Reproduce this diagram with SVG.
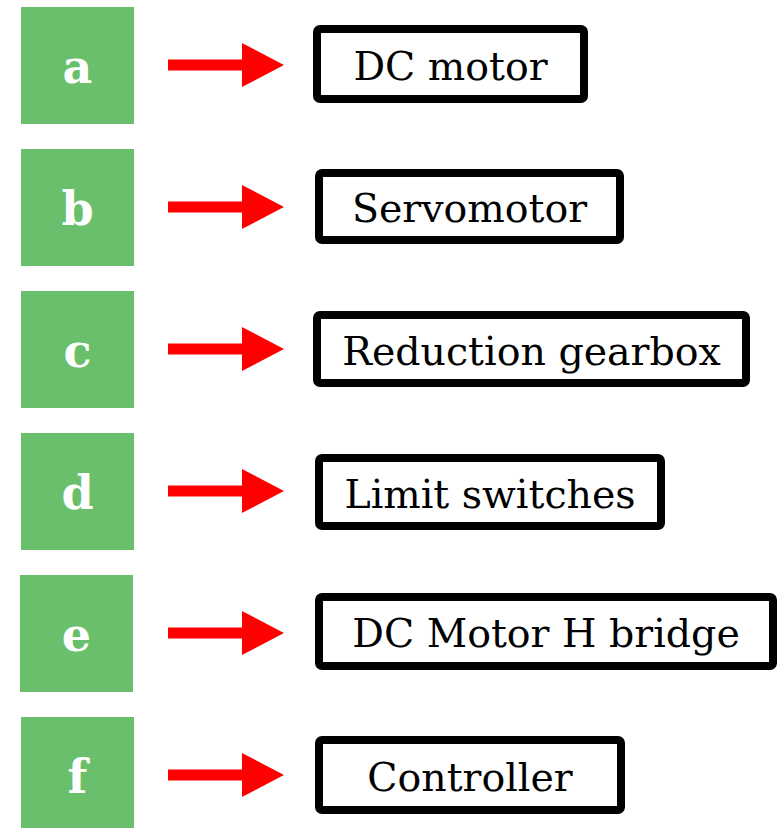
<svg xmlns="http://www.w3.org/2000/svg" width="780" height="828" viewBox="0 0 780 828">
<style>
.sq{fill:#69bf6b}
.lt{font-family:"DejaVu Serif","Liberation Serif",serif;font-weight:bold;font-size:46px;fill:#fff;text-anchor:middle}
.bx{fill:#fff;stroke:#000;stroke-width:8;rx:3}
.tx{font-family:"DejaVu Serif","Liberation Serif",serif;font-size:39.5px;fill:#000;text-anchor:middle}
.ar{fill:#ff0000}
</style>
<defs>
<path id="arr" class="ar" d="M168,-5.5 H242 V-22 L284,0 L242,22 V5.5 H168 Z"/>
</defs>
<rect width="780" height="828" fill="#fff"/>
<g id="connectors">
<use href="#arr" transform="translate(0,65)"/>
<use href="#arr" transform="translate(0,207)"/>
<use href="#arr" transform="translate(0,349)"/>
<use href="#arr" transform="translate(0,491)"/>
<use href="#arr" transform="translate(0,633)"/>
<use href="#arr" transform="translate(0,775)"/>
</g>
<g id="node-a"><rect class="sq" x="21" y="7" width="113" height="117"/><text class="lt" x="77.5" y="83">a</text></g>
<g id="node-b"><rect class="sq" x="21" y="149" width="113" height="117"/><text class="lt" x="77.5" y="225">b</text></g>
<g id="node-c"><rect class="sq" x="21" y="291" width="113" height="117"/><text class="lt" x="77.5" y="367">c</text></g>
<g id="node-d"><rect class="sq" x="21" y="433" width="113" height="117"/><text class="lt" x="77.5" y="509">d</text></g>
<g id="node-e"><rect class="sq" x="20" y="575" width="113" height="117"/><text class="lt" x="76.5" y="651">e</text></g>
<g id="node-f"><rect class="sq" x="21" y="717" width="113" height="117"/><text class="lt" x="77.5" y="793">f</text></g>
<g id="box-dc-motor"><rect class="bx" x="317" y="29" width="267" height="70"/><text class="tx" x="450.5" y="80">DC motor</text></g>
<g id="box-servomotor"><rect class="bx" x="319" y="173" width="301" height="67"/><text class="tx" x="469.5" y="222">Servomotor</text></g>
<g id="box-gearbox"><rect class="bx" x="317" y="315" width="429" height="68"/><text class="tx" x="531.5" y="365">Reduction gearbox</text></g>
<g id="box-limit"><rect class="bx" x="319" y="458" width="342" height="68"/><text class="tx" x="490" y="508">Limit switches</text></g>
<g id="box-hbridge"><rect class="bx" x="319" y="597" width="454" height="69"/><text class="tx" x="546" y="647">DC Motor H bridge</text></g>
<g id="box-controller"><rect class="bx" x="319" y="740" width="302" height="70"/><text class="tx" x="470" y="791">Controller</text></g>
</svg>
